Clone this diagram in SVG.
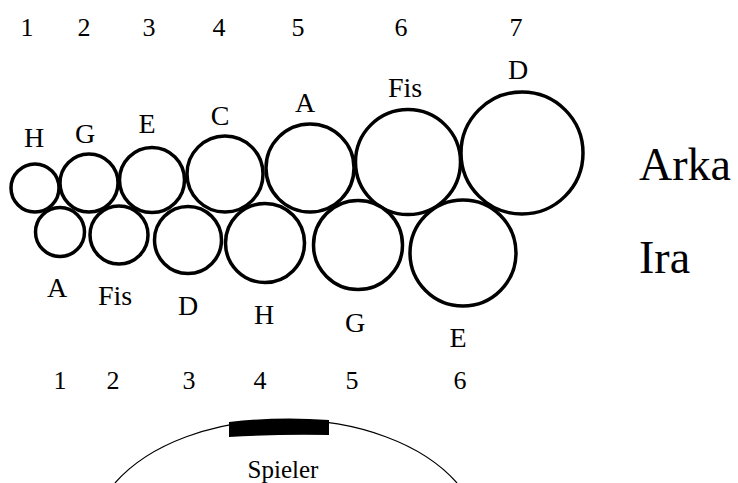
<svg xmlns="http://www.w3.org/2000/svg" width="738" height="483" viewBox="0 0 738 483">
<style>
text{font-family:"Liberation Serif","Times New Roman",serif;fill:#000;text-anchor:middle}
.num{font-size:26px}
.note{font-size:28px}
.row{font-size:46px;text-anchor:start}
.btn{fill:#fff;stroke:#000;stroke-width:3.5}
</style>
<rect width="738" height="483" fill="#fff"/>
<g id="top-numbers">
<text class="num" x="27" y="36">1</text>
<text class="num" x="84" y="36">2</text>
<text class="num" x="149" y="36">3</text>
<text class="num" x="219" y="36">4</text>
<text class="num" x="298" y="36">5</text>
<text class="num" x="401" y="36">6</text>
<text class="num" x="516" y="36">7</text>
</g>
<g id="arka">
<g id="arka-1"><circle class="btn" cx="35" cy="188" r="24"/><text class="note" x="34" y="147">H</text></g>
<g id="arka-2"><circle class="btn" cx="89" cy="183" r="29"/><text class="note" x="85" y="143">G</text></g>
<g id="arka-3"><circle class="btn" cx="152" cy="180" r="32.5"/><text class="note" x="147" y="133">E</text></g>
<g id="arka-4"><circle class="btn" cx="225" cy="174" r="38"/><text class="note" x="220" y="125">C</text></g>
<g id="arka-5"><circle class="btn" cx="310" cy="168" r="44"/><text class="note" x="305" y="112">A</text></g>
<g id="arka-6"><circle class="btn" cx="408" cy="162" r="52.5"/><text class="note" x="405" y="97">Fis</text></g>
<g id="arka-7"><circle class="btn" cx="522" cy="153" r="61"/><text class="note" x="518" y="79">D</text></g>
</g>
<g id="ira">
<g id="ira-1"><circle class="btn" cx="60" cy="232" r="24.5"/><text class="note" x="57" y="297">A</text></g>
<g id="ira-2"><circle class="btn" cx="119" cy="235" r="29"/><text class="note" x="115" y="305">Fis</text></g>
<g id="ira-3"><circle class="btn" cx="188" cy="240" r="33.5"/><text class="note" x="188" y="315">D</text></g>
<g id="ira-4"><circle class="btn" cx="265" cy="243" r="39.5"/><text class="note" x="264" y="324">H</text></g>
<g id="ira-5"><circle class="btn" cx="358" cy="245" r="44.5"/><text class="note" x="355" y="332">G</text></g>
<g id="ira-6"><circle class="btn" cx="463" cy="253" r="53"/><text class="note" x="458" y="347">E</text></g>
</g>
<g id="row-labels">
<text class="row" x="639" y="180">Arka</text>
<text class="row" x="639" y="273">Ira</text>
</g>
<g id="bottom-numbers">
<text class="num" x="60" y="389">1</text>
<text class="num" x="113" y="389">2</text>
<text class="num" x="189" y="389">3</text>
<text class="num" x="260" y="389">4</text>
<text class="num" x="352" y="389">5</text>
<text class="num" x="460" y="389">6</text>
</g>
<g id="spieler">
<path d="M115,483 A194,120 0 0 1 457,483" fill="none" stroke="#000" stroke-width="1.2"/>
<path d="M229,422 Q279,416 329,420 L329,435 Q279,434 229,437 Z" fill="#000"/>
<text x="283" y="478" style="font-size:25px">Spieler</text>
</g>
</svg>
